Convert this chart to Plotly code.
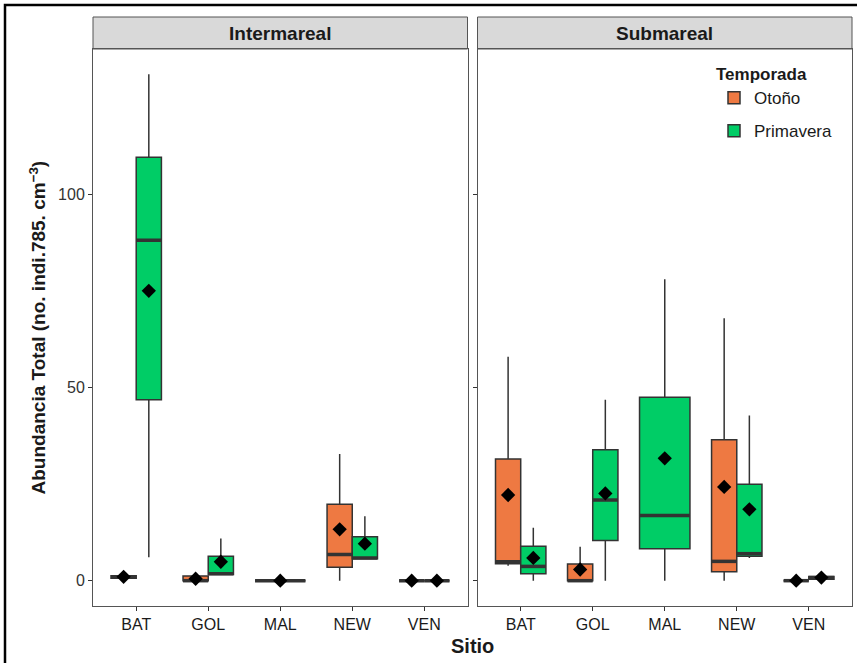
import plotly.graph_objects as go

# ---------------- data ----------------
sites = ["BAT", "GOL", "MAL", "NEW", "VEN"]
facets = ["Intermareal", "Submareal"]
seasons = ["Otoño", "Primavera"]
colors = {"Otoño": "#EE7942", "Primavera": "#00CD66"}

# Intermareal – Otoño
int_oto_sites = ["BAT", "GOL", "NEW", "VEN"]
int_oto_lo = [0.6, 0.0, 0.0, 0.0]
int_oto_q1 = [0.6, 0.0, 3.5, 0.0]
int_oto_med = [0.9, 0.0, 6.8, 0.0]
int_oto_q3 = [1.3, 1.2, 19.8, 0.0]
int_oto_hi = [1.3, 1.2, 32.8, 0.0]
int_oto_mean = [1.0, 0.5, 13.3, 0.0]

# Intermareal – Primavera
int_pri_sites = ["BAT", "GOL", "MAL", "NEW", "VEN"]
int_pri_lo = [6.1, 1.6, 0.0, 5.7, 0.0]
int_pri_q1 = [46.9, 1.6, 0.0, 5.7, 0.0]
int_pri_med = [88.2, 1.8, 0.0, 5.9, 0.0]
int_pri_q3 = [109.7, 6.3, 0.0, 11.4, 0.0]
int_pri_hi = [131.2, 10.9, 0.0, 16.7, 0.0]
int_pri_mean = [75.1, 4.9, 0.0, 9.6, 0.0]

# Submareal – Otoño
sub_oto_sites = ["BAT", "GOL", "NEW", "VEN"]
sub_oto_lo = [3.9, 0.0, 0.0, 0.0]
sub_oto_q1 = [4.4, 0.0, 2.3, 0.0]
sub_oto_med = [4.9, 0.0, 5.0, 0.0]
sub_oto_q3 = [31.5, 4.3, 36.5, 0.0]
sub_oto_hi = [58.0, 8.8, 68.0, 0.0]
sub_oto_mean = [22.2, 2.9, 24.3, 0.0]

# Submareal – Primavera
sub_pri_sites = ["BAT", "GOL", "MAL", "NEW", "VEN"]
sub_pri_lo = [0.0, 0.0, 0.0, 5.9, 0.4]
sub_pri_q1 = [1.8, 10.4, 8.3, 6.3, 0.4]
sub_pri_med = [3.7, 20.9, 16.9, 7.0, 0.8]
sub_pri_q3 = [8.9, 33.9, 47.5, 25.0, 1.1]
sub_pri_hi = [13.7, 46.9, 78.1, 42.8, 1.1]
sub_pri_mean = [5.9, 22.6, 31.7, 18.5, 0.8]

y_ticks = [0, 50, 100]

data = {
    ("Intermareal", "Otoño"): (int_oto_sites, int_oto_lo, int_oto_q1, int_oto_med, int_oto_q3, int_oto_hi, int_oto_mean),
    ("Intermareal", "Primavera"): (int_pri_sites, int_pri_lo, int_pri_q1, int_pri_med, int_pri_q3, int_pri_hi, int_pri_mean),
    ("Submareal", "Otoño"): (sub_oto_sites, sub_oto_lo, sub_oto_q1, sub_oto_med, sub_oto_q3, sub_oto_hi, sub_oto_mean),
    ("Submareal", "Primavera"): (sub_pri_sites, sub_pri_lo, sub_pri_q1, sub_pri_med, sub_pri_q3, sub_pri_hi, sub_pri_mean),
}

# ---------------- layout geometry ----------------
W, H = 857, 663
ML, MR, MT, MB = 93, 5, 49, 57
PW = W - ML - MR
PH = H - MT - MB
GAP = 10
d1 = ((PW - GAP) / 2) / PW
d2 = 1 - d1

DODGE = 0.7
ymax = max(int_pri_hi + sub_pri_hi + int_oto_hi + sub_oto_hi)
yrange = [-0.05 * ymax, 1.05 * ymax]

fig = go.Figure()

for fi, facet in enumerate(facets):
    xa = "x" if fi == 0 else "x2"
    ya = "y" if fi == 0 else "y2"
    present = {s: [se for se in seasons if s in data[(facet, se)][0]] for s in sites}
    for se in seasons:
        st, lo, q1, med, q3, hi, mn = data[(facet, se)]
        buckets = {}
        for i, s in enumerate(st):
            grp = present[s]
            n = len(grp)
            w = DODGE / n
            k = grp.index(se)
            xc = sites.index(s) + 1 - DODGE / 2 + w * (k + 0.5)
            buckets.setdefault(w, []).append((xc, lo[i], q1[i], med[i], q3[i], hi[i], mn[i]))
        first = True
        for w, rows in buckets.items():
            xs = [r[0] for r in rows]
            fig.add_trace(go.Box(
                x=xs, lowerfence=[r[1] for r in rows], q1=[r[2] for r in rows],
                median=[r[3] for r in rows], q3=[r[4] for r in rows],
                upperfence=[r[5] for r in rows],
                width=w, whiskerwidth=0, fillcolor=colors[se],
                line=dict(color="#333333", width=1.5),
                name=se, legendgroup=se, boxpoints=False,
                showlegend=(fi == 0 and first), xaxis=xa, yaxis=ya,
                hoverinfo="skip",
            ))
            first = False
            mx, my = [], []
            for r in rows:
                mx += [r[0] - w / 2, r[0] + w / 2, None]
                my += [r[3], r[3], None]
            fig.add_trace(go.Scatter(x=mx, y=my, mode="lines",
                                     line=dict(color="#333333", width=3.5),
                                     showlegend=False, xaxis=xa, yaxis=ya, hoverinfo="skip"))
            fig.add_trace(go.Scatter(x=xs, y=[r[6] for r in rows], mode="markers",
                                     marker=dict(symbol="diamond", size=11, color="black"),
                                     showlegend=False, xaxis=xa, yaxis=ya, hoverinfo="skip"))

FONT = "Liberation Sans, Arial, sans-serif"
axis_common = dict(range=[0.4, 5.6], tickvals=[1, 2, 3, 4, 5], ticktext=sites,
                   showgrid=False, zeroline=False, showline=True, mirror=True,
                   linecolor="#555555", linewidth=1, ticks="outside", ticklen=4,
                   tickcolor="#333333", tickfont=dict(family=FONT, size=16, color="#1a1a1a"))
yaxis_common = dict(range=yrange, tickvals=y_ticks, showgrid=False, zeroline=False,
                    showline=True, mirror=True, linecolor="#555555", linewidth=1,
                    ticks="outside", ticklen=4, tickcolor="#333333",
                    tickfont=dict(family=FONT, size=16, color="#333333"))

fig.update_layout(
    width=W, height=H,
    margin=dict(l=ML, r=MR, t=MT, b=MB),
    paper_bgcolor="white", plot_bgcolor="white",
    font=dict(family=FONT),
    xaxis=dict(domain=[0, d1], anchor="y", **axis_common),
    xaxis2=dict(domain=[d2, 1], anchor="y2", **axis_common),
    yaxis=dict(domain=[0, 1], anchor="x", **yaxis_common),
    yaxis2=dict(domain=[0, 1], anchor="x2", showticklabels=False, matches="y",
                **{k: v for k, v in yaxis_common.items() if k not in ("tickfont",)}),
    legend=dict(x=(714 - ML) / PW, y=1 - (58 - MT) / PH, xanchor="left", yanchor="top",
                bgcolor="rgba(255,255,255,0)", tracegroupgap=8,
                title=dict(text="<b>Temporada</b>", font=dict(family=FONT, size=17, color="#1a1a1a")),
                font=dict(family=FONT, size=17, color="#1a1a1a")),
    showlegend=True,
)

strip_h = (MT - 17) / PH
shapes = []
annotations = []
for fi, facet in enumerate(facets):
    x0, x1 = (0, d1) if fi == 0 else (d2, 1)
    shapes.append(dict(type="rect", xref="paper", yref="paper", x0=x0, x1=x1, y0=1, y1=1 + strip_h,
                       fillcolor="#D9D9D9", line=dict(color="#555555", width=1), layer="below"))
    annotations.append(dict(text="<b>" + facet + "</b>", xref="paper", yref="paper",
                            x=(x0 + x1) / 2, y=1 + strip_h / 2, showarrow=False,
                            xanchor="center", yanchor="middle",
                            font=dict(family=FONT, size=19, color="#1a1a1a")))
shapes.append(dict(type="rect", xref="paper", yref="paper",
                   x0=(5 - ML) / PW, x1=(W + 20 - ML) / PW,
                   y0=-(H + 20 - MT - PH) / PH, y1=1 + (MT - 5) / PH,
                   line=dict(color="black", width=2.5), fillcolor="rgba(0,0,0,0)"))
annotations.append(dict(text="<b>Sitio</b>", xref="paper", yref="paper", x=0.5,
                        y=-(646 - MT - PH) / PH, showarrow=False, xanchor="center", yanchor="middle",
                        font=dict(family=FONT, size=20, color="#1a1a1a")))
annotations.append(dict(text="<b>Abundancia Total (no. indi.785. cm<sup>−3</sup>)</b>",
                        xref="paper", yref="paper", x=(37 - ML) / PW, y=0.5, textangle=-90,
                        showarrow=False, xanchor="center", yanchor="middle",
                        font=dict(family=FONT, size=19, color="#1a1a1a")))
fig.update_layout(shapes=shapes, annotations=annotations)

fig.write_html("out.html", config={"displayModeBar": False},
               post_script="document.body.style.margin='0';document.body.style.padding='0';")
